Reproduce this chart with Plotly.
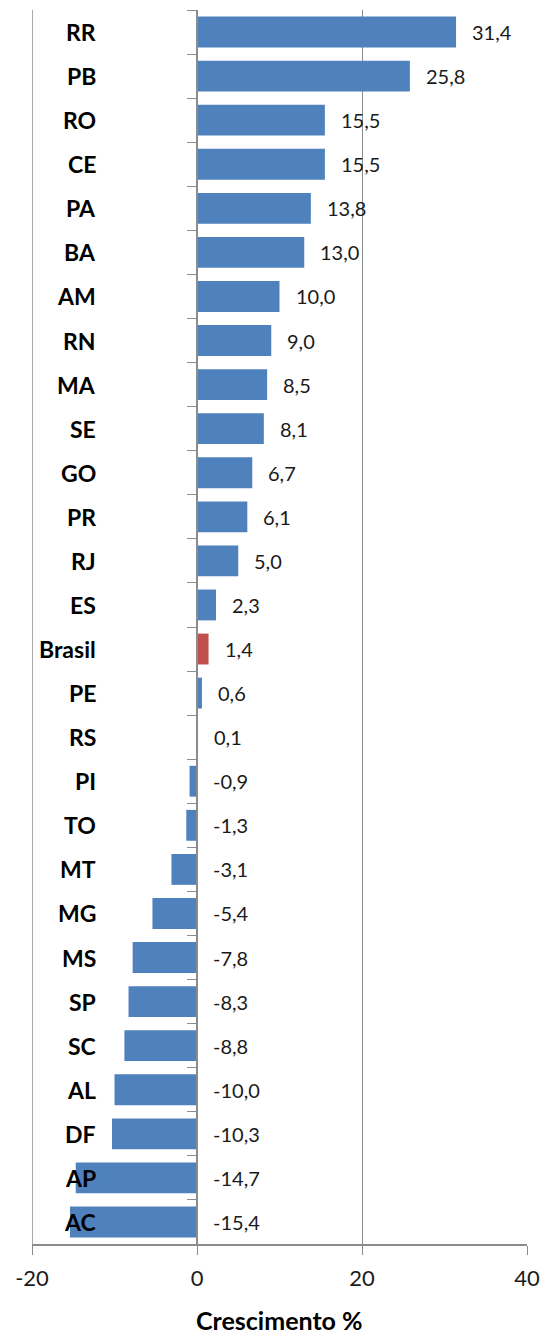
import plotly.graph_objects as go

categories = ["RR", "PB", "RO", "CE", "PA", "BA", "AM", "RN", "MA", "SE", "GO", "PR", "RJ", "ES",
              "Brasil", "PE", "RS", "PI", "TO", "MT", "MG", "MS", "SP", "SC", "AL", "DF", "AP", "AC"]
values = [31.4, 25.8, 15.5, 15.5, 13.8, 13.0, 10.0, 9.0, 8.5, 8.1, 6.7, 6.1, 5.0, 2.3,
          1.4, 0.6, 0.1, -0.9, -1.3, -3.1, -5.4, -7.8, -8.3, -8.8, -10.0, -10.3, -14.7, -15.4]
x_ticks = [-20, 0, 20, 40]
axis_title = "Crescimento %"

BLUE = "#4F81BD"
RED = "#C0504D"
GRID = "#8c8c8c"
colors = [RED if c == "Brasil" else BLUE for c in categories]

FONT = "Lato"

fig = go.Figure()
fig.add_trace(go.Bar(
    x=values, y=categories, orientation="h",
    marker=dict(color=colors, line=dict(width=0)),
    hoverinfo="skip",
))

annotations = []
for c, v in zip(categories, values):
    annotations.append(dict(
        x=-12, y=c, xref="x", yref="y", text=f"<b>{c}</b>", showarrow=False,
        xanchor="right", yanchor="middle",
        font=dict(family=FONT, size=23, color="#000000"),
    ))
    annotations.append(dict(
        x=max(v, 0), y=c, xref="x", yref="y", text=f"{v:.1f}".replace(".", ","),
        showarrow=False, xanchor="left", yanchor="middle", xshift=14,
        font=dict(family=FONT, size=20, color="#1a1a1a"),
    ))
annotations.append(dict(
    x=0.5, y=0, xref="paper", yref="paper", text=f"<b>{axis_title}</b>",
    showarrow=False, xanchor="center", yanchor="middle", yshift=-76,
    font=dict(family=FONT, size=25, color="#000000"),
))

fig.add_shape(type="line", xref="x", yref="paper", x0=-20, x1=-20, y0=0, y1=1,
              line=dict(color=GRID, width=1.5))

fig.update_layout(
    width=540, height=1326,
    margin=dict(l=24, r=21, t=2, b=90),
    paper_bgcolor="white", plot_bgcolor="white",
    bargap=0.3,
    showlegend=False,
    annotations=annotations,
    xaxis=dict(
        range=[-20, 40], tickvals=x_ticks, ticktext=[str(t) for t in x_ticks],
        showgrid=True, gridcolor=GRID, gridwidth=1,
        zeroline=False,
        showline=True, linecolor=GRID, linewidth=1.5,
        ticks="outside", ticklen=9, tickcolor=GRID,
        tickfont=dict(family=FONT, size=22, color="#1a1a1a"),
        ticklabelstandoff=5,
    ),
    yaxis=dict(
        autorange="reversed", type="category",
        anchor="free", position=1/3,
        showline=True, linecolor=GRID, linewidth=1.5,
        ticks="outside", ticklen=9, tickcolor=GRID, tickson="boundaries",
        showticklabels=False, showgrid=False, zeroline=False,
    ),
)

fig.write_html("out.html")
